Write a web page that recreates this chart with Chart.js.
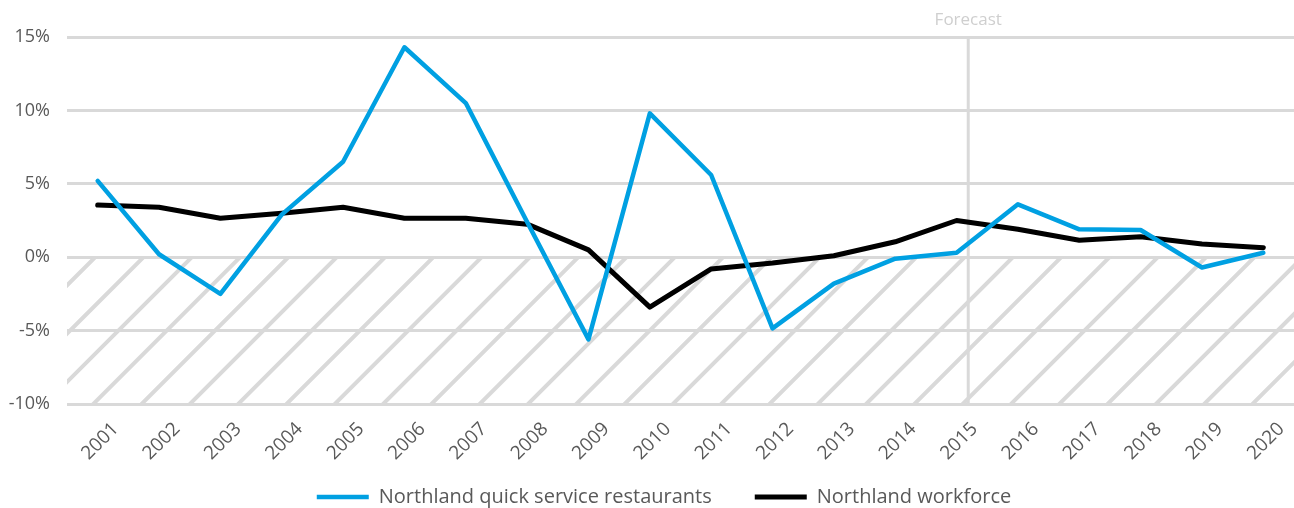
<!DOCTYPE html>
<html><head><meta charset="utf-8">
<script src="https://cdn.jsdelivr.net/npm/chart.js@4.4.0/dist/chart.umd.min.js"></script>
<style>
html,body{margin:0;padding:0;overflow:hidden;background:#fff;}
#wrap{width:1294px;height:508px;position:relative;}
</style></head><body>
<div id="wrap"><canvas id="c"></canvas></div>
<script>
const years = ['2001','2002','2003','2004','2005','2006','2007','2008','2009','2010','2011','2012','2013','2014','2015','2016','2017','2018','2019','2020'];
const qsrGrowth = [5.2, 0.2, -2.5, 2.9, 6.5, 14.3, 10.5, 2.4, -5.6, 9.8, 5.6, -4.85, -1.8, -0.1, 0.3, 3.6, 1.9, 1.85, -0.7, 0.3];
const workforceGrowth = [3.55, 3.4, 2.65, 3.0, 3.4, 2.65, 2.65, 2.25, 0.5, -3.4, -0.8, -0.4, 0.1, 1.05, 2.5, 1.9, 1.15, 1.4, 0.9, 0.65];
const seriesNames = ['Northland quick service restaurants', 'Northland workforce'];
const yMin = -10, yMax = 15, yStep = 5;
const forecastAt = 14.19;
const forecastLabel = 'Forecast';

const FONT = '"Open Sans", "DejaVu Sans", sans-serif';
const GRID = '#d9d9d9';
const TEXT = '#595959';
const LEGEND_PAD = 43, LEGEND_FONT = 20;

const hatchPlugin = {
  id: 'hatch',
  beforeDatasetsDraw(chart) {
    const {ctx, chartArea, scales} = chart;
    const y = scales.y;
    const top = y.getPixelForValue(0), bottom = y.getPixelForValue(yMin);
    const left = chartArea.left, right = chartArea.right;
    const h = bottom - top, sp = 48.3;
    ctx.save();
    ctx.beginPath(); ctx.rect(left, top, right - left, bottom - top); ctx.clip();
    ctx.strokeStyle = GRID; ctx.lineWidth = 4;
    ctx.beginPath();
    let bx = left + 26.3;
    while (bx > left - h - sp) bx -= sp;
    for (; bx < right + sp; bx += sp) {
      ctx.moveTo(bx - 6, bottom + 6);
      ctx.lineTo(bx + h + 6, top - 6);
    }
    ctx.stroke();
    ctx.restore();
  }
};

const forecastPlugin = {
  id: 'forecast',
  beforeDatasetsDraw(chart) {
    const {ctx, scales} = chart;
    const xp = scales.x.getPixelForValue(forecastAt);
    const t = scales.y.getPixelForValue(yMax), b = scales.y.getPixelForValue(yMin);
    ctx.save();
    ctx.strokeStyle = GRID; ctx.lineWidth = 3;
    ctx.beginPath(); ctx.moveTo(xp, t); ctx.lineTo(xp, b); ctx.stroke();
    ctx.fillStyle = '#cfcfcf';
    ctx.font = '17px ' + FONT;
    ctx.textAlign = 'center'; ctx.textBaseline = 'middle';
    ctx.fillText(forecastLabel, xp, t - 17);
    ctx.restore();
  }
};

// keep the legend's reserved band small and place its row near the bottom edge
const legendPlacePlugin = {
  id: 'legendPlace',
  afterInit(chart) {
    const lg = chart.legend;
    if (!lg) return;
    const fit = lg.fit.bind(lg);
    lg.fit = function () { fit(); this.height = 30; };
  },
  afterLayout(chart) {
    const lg = chart.legend;
    if (!lg) return;
    const newTop = 497 - LEGEND_FONT / 2 - LEGEND_PAD;
    lg.top = newTop; lg.bottom = chart.height; lg.height = lg.bottom - lg.top;
    lg.left += 17; lg.right += 17;
  }
};

new Chart(document.getElementById('c'), {
  type: 'line',
  data: {
    labels: years,
    datasets: [
      { label: seriesNames[0], data: qsrGrowth, borderColor: '#00a0e2', backgroundColor: '#00a0e2', borderWidth: 4.5, pointRadius: 0, pointStyle: 'line', tension: 0, borderJoinStyle: 'round', borderCapStyle: 'round' },
      { label: seriesNames[1], data: workforceGrowth, borderColor: '#000000', backgroundColor: '#000000', borderWidth: 5, pointRadius: 0, pointStyle: 'line', tension: 0, borderJoinStyle: 'round', borderCapStyle: 'round' }
    ]
  },
  options: {
    responsive: true,
    maintainAspectRatio: false,
    animation: false,
    layout: { padding: { top: 37, left: 0, right: 0, bottom: 0 } },
    plugins: {
      tooltip: { enabled: false },
      legend: {
        position: 'bottom',
        labels: { usePointStyle: true, pointStyleWidth: 52, boxHeight: 5, color: TEXT, font: { family: FONT, size: LEGEND_FONT }, padding: LEGEND_PAD }
      }
    },
    scales: {
      x: {
        offset: true,
        grid: { display: false },
        border: { display: false },
        ticks: { color: TEXT, font: { family: FONT, size: 19 }, minRotation: 45, maxRotation: 45, autoSkip: false, padding: 6, labelOffset: 18 },
        afterFit(s) { s.height = 74; }
      },
      y: {
        min: yMin, max: yMax,
        grid: { color: GRID, lineWidth: 3, drawTicks: false },
        border: { display: false },
        ticks: { stepSize: yStep, color: TEXT, font: { family: FONT, size: 18 }, padding: 17, callback: v => v + '%' },
        afterFit(s) { s.width = 67; }
      }
    }
  },
  plugins: [hatchPlugin, forecastPlugin, legendPlacePlugin]
});
</script>
</body></html>
